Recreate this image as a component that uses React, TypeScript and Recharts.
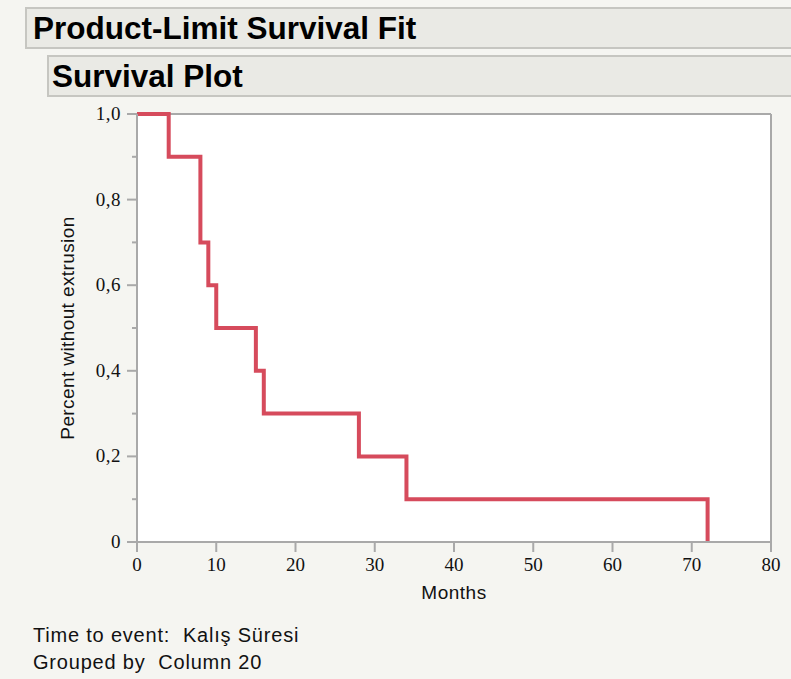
import React from "react";
import {
  LineChart,
  Line,
  XAxis,
  YAxis,
  CartesianGrid,
  ReferenceLine,
} from "recharts";

// Kaplan-Meier step estimate
const times = [0, 4, 8, 9, 10, 15, 16, 28, 34, 72];
const survival = [1, 0.9, 0.7, 0.6, 0.5, 0.4, 0.3, 0.2, 0.1, 0];

const xTicks = [0, 10, 20, 30, 40, 50, 60, 70, 80];
const yTicks = [0, 0.1, 0.2, 0.3, 0.4, 0.5, 0.6, 0.7, 0.8, 0.9, 1];
const yMajorTicks = [0, 0.2, 0.4, 0.6, 0.8, 1];
const yTickLabels = ["0", "0,2", "0,4", "0,6", "0,8", "1,0"];

const AXIS = "#a9a9a9";
const CURVE = "#d64b5c";
const BG = "#f5f5f1";
const SANS = "'Liberation Sans', Arial, sans-serif";
const SERIF = "'Liberation Serif', 'Times New Roman', serif";

const data = times.map((t, i) => ({ t, s: survival[i] }));

function YTick(props: any) {
  const { x, y, payload } = props;
  const idx = yMajorTicks.findIndex((v) => Math.abs(v - payload.value) < 1e-6);
  const major = idx >= 0;
  return (
    <g>
      <line x1={x - (major ? 10 : 5)} x2={x} y1={y} y2={y} stroke={AXIS} strokeWidth={2} />
      {major && (
        <text x={x - 16} y={y} dy={6} textAnchor="end" fontFamily={SERIF} fontSize={19} letterSpacing={0.5} fill="#111">
          {yTickLabels[idx]}
        </text>
      )}
    </g>
  );
}

function XTick(props: any) {
  const { x, y, payload } = props;
  return (
    <g>
      <line x1={x} x2={x} y1={y} y2={y + 10} stroke={AXIS} strokeWidth={2} />
      <text x={x} y={y + 29} textAnchor="middle" fontFamily={SERIF} fontSize={19} fill="#111">
        {payload.value}
      </text>
    </g>
  );
}

const boxStyle = (left: number, top: number, pad: number): React.CSSProperties => ({
  position: "absolute",
  left,
  top,
  width: 791 - left + 10,
  height: 38,
  background: "#eaeae5",
  border: "2px solid #c6c6c1",
  boxSizing: "content-box",
  fontFamily: SANS,
  fontWeight: "bold",
  fontSize: 31.5,
  lineHeight: "38px",
  color: "#000",
  paddingLeft: pad,
  whiteSpace: "nowrap",
});

export default function App() {
  return (
    <div
      style={{
        position: "absolute",
        left: 0,
        top: 0,
        width: 791,
        height: 679,
        background: BG,
        overflow: "hidden",
      }}
    >
      <div style={boxStyle(25, 7, 6)}>Product-Limit Survival Fit</div>
      <div style={boxStyle(47, 55, 3)}>Survival Plot</div>

      <div style={{ position: "absolute", left: 0, top: 0 }}>
        <LineChart
          width={791}
          height={679}
          data={data}
          margin={{ top: 114, right: 20, bottom: 77, left: 0 }}
        >
          <CartesianGrid fill="#ffffff" horizontal={false} vertical={false} />
          <XAxis
            dataKey="t"
            type="number"
            domain={[0, 80]}
            ticks={xTicks}
            interval={0}
            height={60}
            stroke={AXIS}
            strokeWidth={2}
            tickSize={0}
            tickMargin={0}
            tickLine={false}
            tick={<XTick />}
            label={{
              content: ({ viewBox }: any) => (
                <text
                  x={viewBox.x + viewBox.width / 2}
                  y={viewBox.y + 57}
                  textAnchor="middle"
                  fontFamily={SANS}
                  fontSize={19}
                  letterSpacing={0.5}
                  fill="#111"
                >
                  Months
                </text>
              ),
            }}
          />
          <YAxis
            type="number"
            domain={[0, 1]}
            ticks={yTicks}
            interval={0}
            width={137}
            stroke={AXIS}
            strokeWidth={2}
            tickSize={0}
            tickMargin={0}
            tickLine={false}
            tick={<YTick />}
            label={{
              content: ({ viewBox }: any) => {
                const cx = viewBox.x + 74;
                const cy = viewBox.y + viewBox.height / 2;
                return (
                  <text
                    x={cx}
                    y={cy}
                    transform={`rotate(-90 ${cx} ${cy})`}
                    textAnchor="middle"
                    fontFamily={SANS}
                    fontSize={19}
                    letterSpacing={0.4}
                    fill="#111"
                  >
                    Percent without extrusion
                  </text>
                );
              },
            }}
          />
          <ReferenceLine y={1} stroke={AXIS} strokeWidth={2} />
          <ReferenceLine x={80} stroke={AXIS} strokeWidth={2} />
          <Line
            dataKey="s"
            type="stepAfter"
            stroke={CURVE}
            strokeWidth={4}
            strokeLinejoin="miter"
            dot={false}
            activeDot={false}
            isAnimationActive={false}
          />
        </LineChart>
      </div>

      <div
        style={{
          position: "absolute",
          left: 33,
          top: 622,
          fontFamily: SANS,
          fontSize: 20,
          letterSpacing: 0.8,
          lineHeight: "27px",
          color: "#111",
          whiteSpace: "pre",
        }}
      >
        <div>Time to event:  Kalış Süresi</div>
        <div>Grouped by  Column 20</div>
      </div>
    </div>
  );
}
